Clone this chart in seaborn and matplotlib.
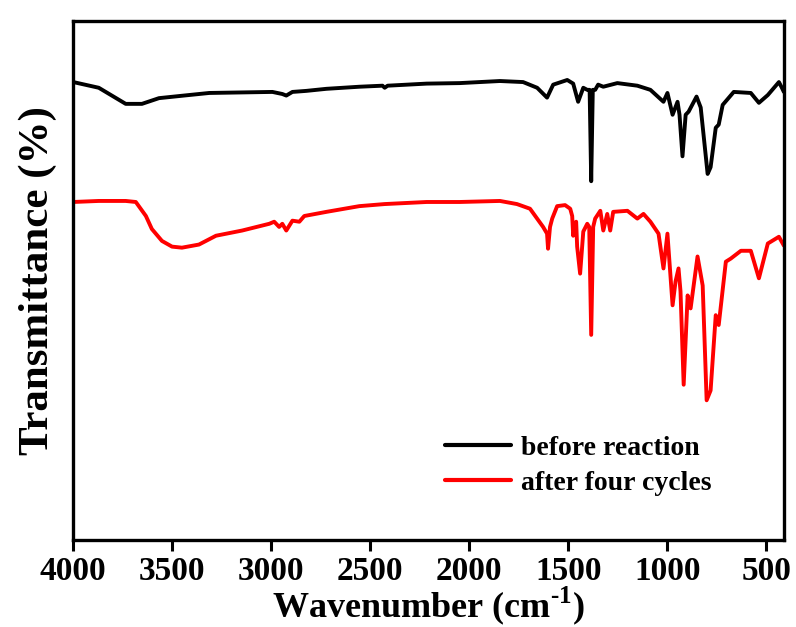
import numpy as np
import pandas as pd
import matplotlib
matplotlib.use("Agg")
import matplotlib.pyplot as plt
import seaborn as sns

# FTIR spectrum of the catalyst before reaction
wn_before = [4000, 3871, 3735, 3653, 3567, 3441, 3313, 2994, 2944, 2924, 2893, 2823,
             2721, 2555, 2438, 2427, 2412, 2215, 2048, 1845, 1728, 1657, 1607, 1576,
             1505, 1475, 1450, 1424, 1404, 1392, 1384, 1376, 1364, 1349, 1323, 1252,
             1151, 1085, 1019, 999, 973, 948, 938, 923, 907, 892, 852, 831, 796, 781,
             755, 740, 720, 664, 578, 537, 492, 436, 421, 411]
t_before = [88.3, 87.2, 84.1, 84.1, 85.2, 85.7, 86.2, 86.4, 86.0, 85.7, 86.4, 86.6,
            87.0, 87.4, 87.6, 87.2, 87.6, 88.0, 88.1, 88.5, 88.3, 87.2, 85.3, 87.8,
            88.7, 88.0, 84.5, 87.2, 86.8, 86.8, 69.2, 86.8, 86.8, 87.8, 87.4, 88.1,
            87.6, 86.8, 84.5, 86.2, 82.0, 84.5, 82.0, 74.0, 82.0, 82.6, 85.5, 83.4, 70.6, 71.9,
            79.5, 80.1, 83.9, 86.4, 86.2, 84.3, 85.8, 88.3, 87.2, 86.4]

# FTIR spectrum after four catalytic cycles
wn_after = [4000, 3871, 3735, 3684, 3633, 3603, 3552, 3501, 3451, 3365, 3279, 3147,
            3010, 2985, 2960, 2944, 2924, 2893, 2858, 2833, 2721, 2555, 2427, 2215,
            2048, 1845, 1759, 1693, 1627, 1607, 1602, 1592, 1581, 1556, 1516, 1490,
            1480, 1475, 1460, 1455, 1440, 1424, 1404, 1394, 1384, 1374, 1364, 1338,
            1323, 1303, 1288, 1273, 1201, 1151, 1120, 1085, 1044, 1019, 999, 973,
            958, 943, 933, 917, 897, 882, 847, 821, 801, 781, 755, 740, 704, 679,
            628, 578, 537, 492, 436, 411]
t_after = [65.2, 65.4, 65.4, 65.2, 62.5, 60.0, 57.7, 56.6, 56.4, 57.0, 58.7, 59.7,
           61.0, 61.4, 60.4, 61.0, 59.7, 61.6, 61.4, 62.5, 63.3, 64.4, 64.8, 65.2,
           65.2, 65.4, 64.8, 63.9, 60.4, 59.1, 56.2, 60.4, 62.0, 64.4, 64.6, 63.9,
           62.5, 58.7, 61.4, 56.6, 51.4, 59.5, 61.0, 60.4, 39.6, 60.4, 62.0, 63.5,
           59.7, 62.9, 59.7, 63.3, 63.5, 62.0, 62.9, 61.4, 59.1, 52.4, 59.1, 45.3,
           49.9, 52.4, 48.0, 30.0, 47.2, 44.7, 54.7, 49.1, 27.0, 28.9, 43.4, 41.5,
           53.7, 54.3, 55.8, 55.8, 50.5, 57.2, 58.5, 56.8]

series_names = ["before reaction", "after four cycles"]
series_colors = ["#000000", "#ff0000"]
x_ticks = [4000, 3500, 3000, 2500, 2000, 1500, 1000, 500]

sns.set_theme(style="white")
plt.rcParams["font.family"] = ["Liberation Serif", "DejaVu Serif"]
plt.rcParams["font.weight"] = "bold"
plt.rcParams["text.color"] = "black"
plt.rcParams["axes.labelcolor"] = "black"
plt.rcParams["xtick.color"] = "black"
plt.rcParams["mathtext.fontset"] = "custom"
plt.rcParams["mathtext.rm"] = "Liberation Serif:bold"
plt.rcParams["mathtext.bf"] = "Liberation Serif:bold"

df = pd.concat([
    pd.DataFrame({"wn": wn_before, "T": t_before, "sample": series_names[0]}),
    pd.DataFrame({"wn": wn_after, "T": t_after, "sample": series_names[1]}),
])

fig = plt.figure(figsize=(7.96, 6.27), dpi=100)
ax = fig.add_axes([0.092, 0.138, 0.893, 0.828])

sns.lineplot(data=df, x="wn", y="T", hue="sample", palette=series_colors,
             estimator=None, sort=False, linewidth=2.8, ax=ax)

ax.set_xlim(4000, 410)
ax.set_ylim(0, 100)
ax.set_xticks(x_ticks)
ax.set_xticklabels([str(t) for t in x_ticks], fontsize=24, fontweight="bold")
ax.set_yticks([])
ax.tick_params(axis="x", direction="out", length=8, width=2.2, bottom=True, pad=3)
for s in ax.spines.values():
    s.set_linewidth(2.4)
    s.set_color("black")

ax.set_xlabel(r"Wavenumber (cm$^{\text{-1}}$)", fontsize=26, fontweight="bold")
ax.xaxis.label.set_va("baseline")
ax.xaxis.set_label_coords(0.5, -0.147)
ax.set_ylabel("Transmittance (%)", fontsize=31, fontweight="bold", labelpad=12)

leg = ax.legend(loc="upper left", bbox_to_anchor=(0.495, 0.24), frameon=False,
                prop={"family": "Liberation Serif", "weight": "bold", "size": 20},
                handlelength=2.4, handletextpad=0.35, labelspacing=0.35,
                borderpad=0.2)
for line in leg.get_lines():
    line.set_linewidth(3.0)

fig.savefig("out.png", dpi=100)
